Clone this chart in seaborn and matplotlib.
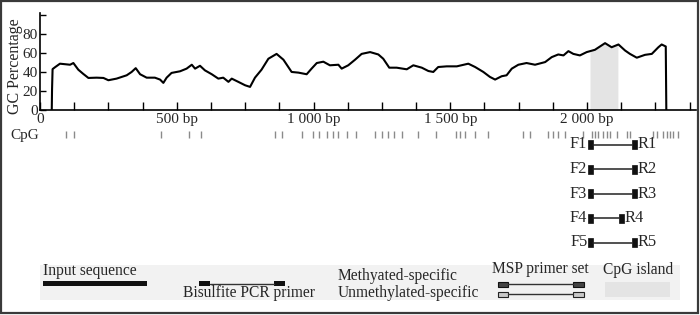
import numpy as np
import pandas as pd
import matplotlib
matplotlib.use("Agg")
import matplotlib.pyplot as plt
from matplotlib.patches import Rectangle
from matplotlib.ticker import MultipleLocator
import seaborn as sns

# ---------------- data ----------------
gc_pos = [43, 44, 46, 55, 73, 110, 122, 140, 158, 177, 207, 232, 250, 280, 317, 335, 350,
          366, 390, 420, 439, 451, 463, 481, 512, 536, 555, 567, 585, 603, 628, 652, 670,
          689, 701, 725, 750, 768, 786, 810, 835, 865, 890, 920, 945, 975, 993, 1012, 1036,
          1060, 1091, 1103, 1127, 1152, 1176, 1207, 1237, 1255, 1277, 1304, 1341, 1365,
          1396, 1420, 1438, 1456, 1487, 1524, 1566, 1591, 1621, 1645, 1664, 1688, 1706,
          1725, 1749, 1779, 1810, 1847, 1871, 1895, 1914, 1932, 1950, 1974, 1999, 2029,
          2066, 2090, 2115, 2139, 2157, 2182, 2212, 2237, 2261, 2273, 2288, 2290]
gc_val = [0, 21, 43, 45, 48.7, 47.6, 49.4, 42.4, 38, 33.7, 34, 33.7, 31.3, 33, 36.5, 40, 44,
          37.6, 34, 34, 32, 28.5, 34, 39, 40.7, 43.5, 47.6, 43.5, 46.5, 41.7, 37.6, 33, 34,
          29.6, 33, 29.6, 26, 24.3, 34, 42.4, 53.9, 59, 52.9, 40, 39.3, 37.6, 43.5, 49.4, 50.8,
          47, 47.6, 43.5, 47, 52.9, 59, 60.9, 58.4, 53.9, 44.5, 44.5, 42.8, 47,
          44.5, 41, 40, 45.2, 45.9, 45.9, 48.7, 45.2, 40, 34.8, 32, 35.5, 36.5,
          43.5, 47.6, 49.4, 47.6, 50.4, 55.6, 58.4, 57.4, 61.9, 59, 57.4, 60.9, 63.3,
          70.3, 66, 68.9, 62.6, 59, 55, 58, 59, 66, 68.9, 66.8, 0]

cpg_sites = [95, 124, 442, 545, 589, 859, 885, 958, 998, 1020, 1049, 1071, 1090, 1122,
             1155, 1225, 1250, 1272, 1294, 1324, 1382, 1448, 1521, 1536, 1554, 1590, 1638,
             1766, 1792, 1857, 1876, 1894, 1920, 1985, 2018, 2029, 2040, 2059, 2073, 2084,
             2110, 2146, 2157, 2241, 2256, 2278, 2293, 2303, 2314, 2333]

island_start, island_end = 2011, 2113

primer_ids = ["1", "2", "3", "4", "5"]
fwd_start = [2004, 2004, 2004, 2004, 2004]
rev_end = [2183, 2183, 2183, 2135, 2183]
primer_len = 18

xtick_pos = [0, 500, 1000, 1500, 2000]
xtick_labels = ["0", "500 bp", "1 000 bp", "1 500 bp", "2 000 bp"]
ytick_pos = [0, 20, 40, 60, 80, 100]
ytick_labels = ["0", "20", "40", "60", "80", ""]

# ---------------- style ----------------
sns.set_theme(style="white")
plt.rcParams["font.family"] = ["Liberation Serif", "DejaVu Serif"]
FS = 11.2
TFS = 11.0

fig = plt.figure(figsize=(7, 3.15), dpi=100)

# pixel overlay for border, labels and legend
pix = fig.add_axes([0, 0, 1, 1])
pix.set_xlim(0, 700)
pix.set_ylim(315, 0)
pix.axis("off")
pix.patch.set_facecolor("none")
pix.add_patch(Rectangle((1, 1), 697, 312, fill=False, ec="#3a3a3a", lw=1.6))

# ---------------- main GC axes ----------------
px_per_bp = 0.2735
ax = fig.add_axes([40 / 700, (315 - 110) / 315, 2400 * px_per_bp / 700, 97 / 315])
ax.patch.set_alpha(0)
df = pd.DataFrame({"pos": gc_pos, "gc": gc_val})
xs = np.linspace(island_start, island_end, 80)
ax.fill_between(xs, 0, np.interp(xs, gc_pos, gc_val), color="#e4e4e4", lw=0, zorder=0)
sns.lineplot(data=df, x="pos", y="gc", ax=ax, color="black", lw=1.5, sort=False, zorder=3)
ax.set_xlim(0, 2400)
ax.set_ylim(0, 102)
ax.set_xticks(xtick_pos, xtick_labels)
ax.xaxis.set_minor_locator(MultipleLocator(125))
ax.set_yticks(ytick_pos, ytick_labels)
ax.tick_params(axis="x", which="both", direction="in", length=6, width=1, pad=2,
               labelsize=TFS, bottom=True, color="black")
ax.tick_params(axis="y", direction="in", length=4, width=1, pad=1.5,
               labelsize=TFS, left=True, color="black")
ax.set_xlabel("")
ax.set_ylabel("")
for s in ["top", "right"]:
    ax.spines[s].set_visible(False)
for s in ["left", "bottom"]:
    ax.spines[s].set_color("black")
    ax.spines[s].set_linewidth(1.2)

pix.text(15, 66, "GC Percentage", rotation=90, ha="center", va="center", fontsize=FS + 0.3)
pix.text(39, 136, "CpG", ha="right", va="center", fontsize=TFS)

# ---------------- CpG sites and primers ----------------
lo = fig.add_axes([40 / 700, (315 - 255) / 315, 2400 * px_per_bp / 700, 135 / 315])
lo.set_xlim(0, 2400)
lo.set_ylim(255, 120)
lo.axis("off")
lo.patch.set_facecolor("none")
lo.vlines(cpg_sites, 131, 137.5, colors="#8a8a8a", lw=1)

for i, (pid, fs, re) in enumerate(zip(primer_ids, fwd_start, rev_end)):
    y = 144.5 + 24.5 * i
    lo.plot([fs + primer_len, re - primer_len], [y, y], color="#222222", lw=1.1)
    lo.add_patch(Rectangle((fs, y - 4.5), primer_len, 9, fc="#111111", ec="#111111", lw=0.5))
    lo.add_patch(Rectangle((re - primer_len, y - 4.5), primer_len, 9, fc="#111111", ec="#111111", lw=0.5))
    lo.text(fs - 3, y, "F" + pid, ha="right", va="center", fontsize=11.8)
    lo.text(re + 3, y, "R" + pid, ha="left", va="center", fontsize=11.8)

# ---------------- legend ----------------
pix.add_patch(Rectangle((40, 265), 640, 35, fc="#f2f2f2", ec="none"))
pix.text(43, 271, "Input sequence", ha="left", va="center", fontsize=FS)
pix.add_patch(Rectangle((43, 281), 104, 5, fc="#111111", ec="none"))

pix.plot([210, 274], [283.5, 283.5], color="#333333", lw=1)
pix.add_patch(Rectangle((199, 281), 11, 5, fc="#111111", ec="none"))
pix.add_patch(Rectangle((274, 281), 11, 5, fc="#111111", ec="none"))
pix.text(249, 293, "Bisulfite PCR primer", ha="center", va="center", fontsize=FS)

pix.text(338, 276, "Methyated-specific", ha="left", va="center", fontsize=FS)
pix.text(338, 293, "Unmethylated-specific", ha="left", va="center", fontsize=FS)

pix.text(540, 269, "MSP primer set", ha="center", va="center", fontsize=FS)
pix.plot([508, 573], [284, 284], color="#333333", lw=1)
pix.add_patch(Rectangle((498, 282), 10, 4.5, fc="#444444", ec="#111111", lw=0.8))
pix.add_patch(Rectangle((573, 282), 11, 4.5, fc="#444444", ec="#111111", lw=0.8))
pix.plot([508, 573], [294, 294], color="#333333", lw=1)
pix.add_patch(Rectangle((498, 292), 10, 4.5, fc="#c8c8c8", ec="#222222", lw=0.8))
pix.add_patch(Rectangle((573, 292), 11, 4.5, fc="#c8c8c8", ec="#222222", lw=0.8))

pix.text(638, 270, "CpG island", ha="center", va="center", fontsize=FS)
pix.add_patch(Rectangle((605, 282), 65, 15, fc="#e4e4e4", ec="none"))

fig.savefig("out.png", dpi=100)
